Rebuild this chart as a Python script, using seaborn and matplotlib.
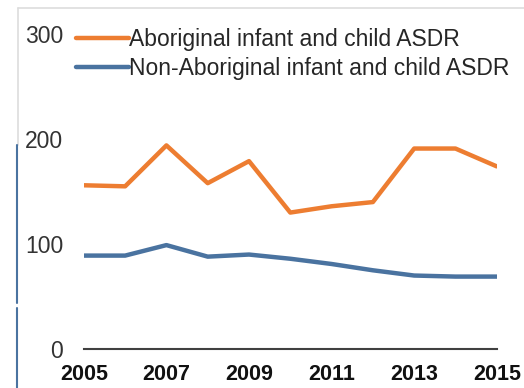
import seaborn as sns
import matplotlib.pyplot as plt
import pandas as pd
from matplotlib.lines import Line2D

years = list(range(2005, 2016))
aboriginal = [156, 155, 194, 158, 179, 130, 136, 140, 191, 191, 174]
non_aboriginal = [89, 89, 99, 88, 90, 86, 81, 75, 70, 69, 69]
labels = ['Aboriginal infant and child ASDR', 'Non-Aboriginal infant and child ASDR']
colors = ['#ED7D31', '#4A73A0']

df = pd.DataFrame({'year': years * 2,
                   'rate': aboriginal + non_aboriginal,
                   'series': [labels[0]] * len(years) + [labels[1]] * len(years)})

sns.set_style('white')
plt.rcParams['font.family'] = ['Liberation Sans', 'DejaVu Sans']

fig = plt.figure(figsize=(5.24, 3.88), dpi=100)
ax = fig.add_axes([0.160, 0.1005, 0.788, 0.8115])
sns.lineplot(data=df, x='year', y='rate', hue='series', palette=colors,
             linewidth=3.2, ax=ax, legend=False)

ax.set_xlim(2005, 2015)
ax.set_ylim(0, 300)
ax.set_xlabel('')
ax.set_ylabel('')
for s in ['top', 'right', 'left']:
    ax.spines[s].set_visible(False)
ax.spines['bottom'].set_color('#404040')
ax.spines['bottom'].set_linewidth(1.5)

ax.set_xticks(years, minor=True)
ax.set_xticks(years[::2])
ax.set_xticklabels([str(y) for y in years[::2]], fontsize=15.5, fontweight='bold', color='#111111')
ax.tick_params(axis='x', which='both', direction='out', length=6, width=1.3, color='#404040', pad=5)
ax.set_yticks([0, 100, 200, 300])
ax.set_yticklabels(['0', '100', '200', '300'], fontsize=16.5, color='#333333')
ax.tick_params(axis='y', length=0, pad=15)

handles = [Line2D([], [], color=c, linewidth=3.2) for c in colors]
fig.legend(handles, labels, loc='upper left', bbox_to_anchor=(0.145, 0.927),
           frameon=False, fontsize=16.5, handlelength=2.3, handletextpad=0.0,
           labelspacing=0.25, borderaxespad=0, borderpad=0)

# framing lines from the cropped source image
fig.add_artist(Line2D([18/524, 1], [1 - 8/388, 1 - 8/388], color='#dddddd', linewidth=1.2))
fig.add_artist(Line2D([18/524, 18/524], [1 - 8/388, 1 - 145/388], color='#dddddd', linewidth=1.2))
fig.add_artist(Line2D([17/524, 17/524], [1 - 145/388, 1 - 303/388], color='#4A73A0', linewidth=1.5))
fig.add_artist(Line2D([17/524, 17/524], [1 - 308/388, 0], color='#4A73A0', linewidth=1.5))

fig.savefig('out.png', dpi=100)
